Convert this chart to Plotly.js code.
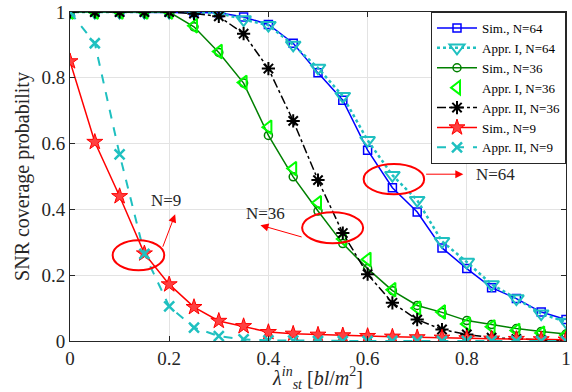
<!DOCTYPE html>
<html>
<head>
<meta charset="utf-8">
<script src="https://cdn.plot.ly/plotly-3.0.1.min.js"></script>
<style>html,body{margin:0;padding:0;background:#fff;}#chart{width:572px;height:392px;}</style>
</head>
<body>
<div id="chart"></div>
<script>
// x values: intra-tier density lambda_st^in
const lambdaIn = [0, 0.05, 0.1, 0.15, 0.2, 0.25, 0.3, 0.35, 0.4, 0.45, 0.5, 0.55, 0.6, 0.65, 0.7, 0.75, 0.8, 0.85, 0.9, 0.95, 1.0];

// Series values (SNR coverage probability)
const simN64   = [1, 1, 1, 1, 1, 1, 0.998, 0.985, 0.962, 0.905, 0.815, 0.732, 0.58, 0.466, 0.392, 0.283, 0.22, 0.162, 0.129, 0.088, 0.065];
const apprIN64 = [1, 1, 1, 1, 1, 1, 0.997, 0.977, 0.96, 0.90, 0.83, 0.744, 0.61, 0.504, 0.428, 0.303, 0.24, 0.172, 0.129, 0.083, 0.058];
const simN36   = [1, 1, 1, 1, 1, 0.955, 0.877, 0.784, 0.625, 0.499, 0.395, 0.296, 0.22, 0.153, 0.108, 0.087, 0.062, 0.05, 0.038, 0.029, 0.021];
const apprIN36 = [1, 1, 1, 1, 1, 0.958, 0.88, 0.786, 0.65, 0.524, 0.42, 0.31, 0.248, 0.156, 0.10, 0.088, 0.052, 0.043, 0.032, 0.024, 0.018];
const apprIIN36= [1, 1, 1, 1, 1, 0.995, 0.987, 0.934, 0.828, 0.669, 0.489, 0.328, 0.203, 0.116, 0.065, 0.035, 0.02, 0.01, 0.006, 0.003, 0.002];
const simN9    = [0.85, 0.605, 0.44, 0.266, 0.172, 0.103, 0.061, 0.045, 0.027, 0.022, 0.019, 0.017, 0.015, 0.013, 0.011, 0.01, 0.008, 0.007, 0.006, 0.005, 0.004];
const apprIIN9 = [1, 0.905, 0.567, 0.265, 0.105, 0.041, 0.015, 0.005, 0.002, 0.001, 0, 0, 0, 0, 0, 0, 0, 0, 0, 0, 0];

const seriesNames = ["Sim., N=64", "Appr. I, N=64", "Sim., N=36", "Appr. I, N=36", "Appr. II, N=36", "Sim., N=9", "Appr. II, N=9"];
const tickVals = [0, 0.2, 0.4, 0.6, 0.8, 1];
const tickText = ["0", "0.2", "0.4", "0.6", "0.8", "1"];
const groupLabels = ["N=9", "N=36", "N=64"];

const serif = "Liberation Serif, Times New Roman, serif";

const traces = [
  {x: lambdaIn, y: simN64, name: seriesNames[0], mode: "lines+markers",
   line: {color: "#0000ff", width: 1.5},
   marker: {symbol: "square-open", size: 8, color: "#0000ff", line: {width: 1.5}}},
  {x: lambdaIn, y: apprIN64, name: seriesNames[1], mode: "lines+markers",
   line: {color: "#1fc0c0", width: 2.5, dash: "dot"},
   marker: {symbol: "triangle-down-open", size: 13, color: "#1fc0c0", line: {width: 2}}},
  {x: lambdaIn, y: simN36, name: seriesNames[2], mode: "lines+markers",
   line: {color: "#008000", width: 1.5},
   marker: {symbol: "circle-open", size: 8, color: "#008000", line: {width: 1.5}}},
  {x: lambdaIn, y: apprIN36, name: seriesNames[3], mode: "markers",
   marker: {symbol: "triangle-left-open", size: 12, color: "#00ff00", line: {width: 2}}},
  {x: lambdaIn, y: apprIIN36, name: seriesNames[4], mode: "lines+markers",
   line: {color: "#000000", width: 1.5, dash: "dashdot"},
   marker: {symbol: "asterisk-open", size: 11, color: "#000000", line: {width: 2}}},
  {x: lambdaIn, y: simN9, name: seriesNames[5], mode: "lines+markers",
   line: {color: "#ff0000", width: 1.5},
   marker: {symbol: "star", size: 12, color: "#ff4040", line: {color: "#ff0000", width: 1}}},
  {x: lambdaIn, y: apprIIN9, name: seriesNames[6], mode: "lines+markers",
   line: {color: "#1fc0c0", width: 2, dash: "dash"},
   marker: {symbol: "x-thin-open", size: 10, color: "#1fc0c0", line: {width: 2.5}}}
];

const axisCommon = {
  range: [0, 1], tickvals: tickVals, ticktext: tickText,
  ticks: "inside", ticklen: 5, tickcolor: "#262626",
  showline: true, linecolor: "#262626", linewidth: 1, mirror: "ticks",
  showgrid: true, gridcolor: "#e3e3e3", gridwidth: 1, zeroline: false,
  ticklabeloverflow: "allow",
  tickfont: {family: serif, size: 19, color: "#262626"}
};

const ell = [
  [0.086, 0.190, 0.215, 0.306],
  [0.468, 0.591, 0.297, 0.391],
  [0.592, 0.714, 0.446, 0.538]
];
const shapes = ell.map(e => ({type: "circle", xref: "x", yref: "y", x0: e[0], x1: e[1], y0: e[2], y1: e[3],
  line: {color: "#ff0000", width: 2}}));

const arrows = [
  {tail: [0.186, 0.282], head: [0.212, 0.385]},
  {tail: [0.470, 0.315], head: [0.384, 0.352]},
  {tail: [0.715, 0.507], head: [0.793, 0.507]}
];
const labelPos = [[0.194, 0.428], [0.394, 0.389], [0.857, 0.505]];

const annotations = [];
arrows.forEach(a => annotations.push({
  xref: "x", yref: "y", axref: "x", ayref: "y",
  x: a.head[0], y: a.head[1], ax: a.tail[0], ay: a.tail[1],
  text: "", showarrow: true, arrowhead: 2, arrowsize: 1.6, arrowwidth: 1, arrowcolor: "#ff0000"
}));
groupLabels.forEach((t, i) => annotations.push({
  xref: "x", yref: "y", x: labelPos[i][0], y: labelPos[i][1], text: t, showarrow: false,
  font: {family: serif, size: 17, color: "#262626"}
}));

const layout = {
  width: 572, height: 392,
  margin: {l: 70, r: 6, t: 12, b: 51},
  paper_bgcolor: "#ffffff", plot_bgcolor: "#ffffff",
  showlegend: true,
  legend: {x: 1, y: 1, xanchor: "right", yanchor: "top", bgcolor: "#ffffff",
    bordercolor: "#262626", borderwidth: 1, font: {family: serif, size: 13, color: "#000"},
    tracegroupgap: 0, itemwidth: 40},
  xaxis: Object.assign({}, axisCommon, {
    title: {text: "<i>λ</i><sup><i>in</i></sup><sub><i>st</i></sub> [<i>bl</i>/<i>m</i><sup>2</sup>]",
      font: {family: serif, size: 20, color: "#262626"}, standoff: 2}
  }),
  yaxis: Object.assign({}, axisCommon, {
    title: {text: "SNR coverage probability", font: {family: serif, size: 20, color: "#262626"}, standoff: 6}
  }),
  shapes: shapes,
  annotations: annotations
};

Plotly.newPlot("chart", traces, layout, {displayModeBar: false, staticPlot: true});
</script>
</body>
</html>
